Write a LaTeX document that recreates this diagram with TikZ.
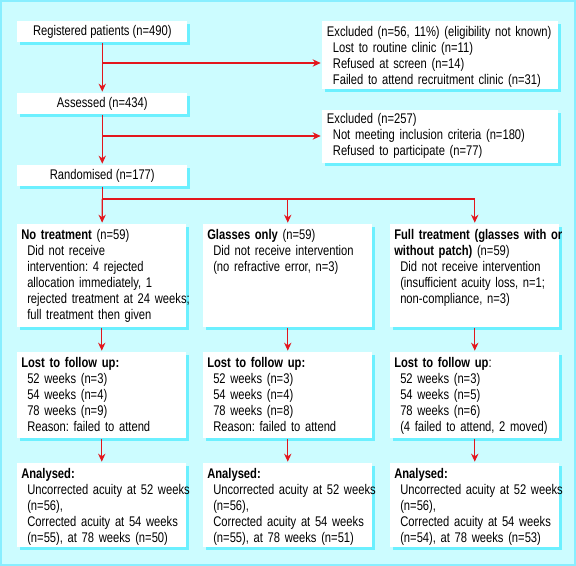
\documentclass[tikz,border=0pt]{standalone}
\usepackage{fontspec}
\setmainfont{Liberation Sans}[FakeStretch=0.80]
\usetikzlibrary{positioning,arrows.meta,calc,shadows}
\definecolor{bgcyan}{HTML}{CCFCFF}
\definecolor{shadowcyan}{HTML}{6CF0FF}
\definecolor{framecyan}{HTML}{88EEFF}
\definecolor{arrowred}{HTML}{E3161D}
\newcommand{\headline}[1]{\mbox{#1}}
\newcommand{\indline}[1]{\mbox{\hspace*{4.5pt}#1}}
\frenchspacing

\begin{document}
\begin{tikzpicture}[x=0.75pt, y=-0.75pt,
  font=\fontsize{10.5}{12}\selectfont,
  cyanshadow/.style={drop shadow={shadow xshift=2.25pt, shadow yshift=-2.25pt,
    fill=shadowcyan, opacity=1}},
  smallbox/.style={fill=white, anchor=north west, inner sep=0pt,
    minimum width=127.5pt, minimum height=15.75pt, cyanshadow},
  exbox/.style={fill=white, anchor=north west, inner xsep=3.5pt, inner ysep=0pt,
    text width=170pt, align=left, text height=11.25pt, cyanshadow},
  colbox/.style={fill=white, anchor=north west, inner xsep=3pt, inner ysep=0pt,
    text width=120.75pt, align=left, text height=11.25pt, cyanshadow},
  arrow/.style={-{Stealth[length=6pt, width=5.5pt]}, line width=0.9pt,
    color=arrowred, shorten >=1pt},
  branch/.style={line width=0.9pt, color=arrowred}
]

% Frame
\fill[bgcyan] (0,0) rectangle (576,566);
\draw[framecyan, line width=1.5pt] (1,1) rectangle (575,565);
\useasboundingbox (0,0) rectangle (576,566);

% Enrolment
\node[smallbox] (reg) at (17,21) {Registered patients (n=490)};
\node[smallbox] (ass) at (17,93) {Assessed (n=434)};
\node[smallbox] (rand) at (17,165) {Randomised (n=177)};

% Exclusions
\node[exbox, text depth=39.75pt] (exc1) at (322,21) {\headline{Excluded (n=56, 11\%) (eligibility not known)}\\
  \indline{Lost to routine clinic (n=11)}\\
  \indline{Refused at screen (n=14)}\\
  \indline{Failed to attend recruitment clinic (n=31)}};
\node[exbox, text height=9.75pt, text depth=30pt] (exc2) at (322,110) {\headline{Excluded (n=257)}\\
  \indline{Not meeting inclusion criteria (n=180)}\\
  \indline{Refused to participate (n=77)}};

% Allocation
\node[colbox, text depth=66pt] (none) at (17,224) {\headline{\textbf{No treatment} (n=59)}\\
  \indline{Did not receive}\\
  \indline{intervention: 4 rejected}\\
  \indline{allocation immediately, 1}\\
  \indline{rejected treatment at 24 weeks;}\\
  \indline{full treatment then given}};
\node[colbox, text depth=66pt] (glass) at (203,224) {\headline{\textbf{Glasses only} (n=59)}\\
  \indline{Did not receive intervention}\\
  \indline{(no refractive error, n=3)}};
\node[colbox, text depth=66pt] (full) at (390,224) {\headline{\textbf{Full treatment (glasses with or}}\\
  \headline{\textbf{without patch)} (n=59)}\\
  \indline{Did not receive intervention}\\
  \indline{(insufficient acuity loss, n=1;}\\
  \indline{non-compliance, n=3)}};

% Follow up
\node[colbox, text depth=53.25pt] (nonelost) at (17,352) {\headline{\textbf{Lost to follow up:}}\\
  \indline{52 weeks (n=3)}\\
  \indline{54 weeks (n=4)}\\
  \indline{78 weeks (n=9)}\\
  \indline{Reason: failed to attend}};
\node[colbox, text depth=53.25pt] (glasslost) at (203,352) {\headline{\textbf{Lost to follow up:}}\\
  \indline{52 weeks (n=3)}\\
  \indline{54 weeks (n=4)}\\
  \indline{78 weeks (n=8)}\\
  \indline{Reason: failed to attend}};
\node[colbox, text depth=53.25pt] (fulllost) at (390,352) {\headline{\textbf{Lost to follow up}:}\\
  \indline{52 weeks (n=3)}\\
  \indline{54 weeks (n=5)}\\
  \indline{78 weeks (n=6)}\\
  \indline{(4 failed to attend, 2 moved)}};

% Analysis
\node[colbox, text depth=51.75pt] (noneana) at (17,463) {\headline{\textbf{Analysed:}}\\
  \indline{Uncorrected acuity at 52 weeks}\\
  \indline{(n=56),}\\
  \indline{Corrected acuity at 54 weeks}\\
  \indline{(n=55), at 78 weeks (n=50)}};
\node[colbox, text depth=51.75pt] (glassana) at (203,463) {\headline{\textbf{Analysed:}}\\
  \indline{Uncorrected acuity at 52 weeks}\\
  \indline{(n=56),}\\
  \indline{Corrected acuity at 54 weeks}\\
  \indline{(n=55), at 78 weeks (n=51)}};
\node[colbox, text depth=51.75pt] (fullana) at (390,463) {\headline{\textbf{Analysed:}}\\
  \indline{Uncorrected acuity at 52 weeks}\\
  \indline{(n=56),}\\
  \indline{Corrected acuity at 54 weeks}\\
  \indline{(n=54), at 78 weeks (n=53)}};

% Arrows
\coordinate (b1) at (reg.south |- 0,63);
\coordinate (b2) at (ass.south |- 0,136);
\coordinate (split) at (rand.south |- 0,199);
\draw[arrow] (reg) -- (ass);
\draw[arrow] (b1) -- (b1 -| exc1.west);
\draw[arrow] (ass) -- (rand);
\draw[arrow] (b2) -- (b2 -| exc2.west);
\draw[branch] (rand.south) -- (split) -- (split -| full.north);
\draw[arrow] (split) -- (none);
\draw[arrow] (split -| glass.north) -- (glass);
\draw[arrow] (split -| full.north) -- (full);
\draw[arrow] (none) -- (nonelost);
\draw[arrow] (glass) -- (glasslost);
\draw[arrow] (full) -- (fulllost);
\draw[arrow] (nonelost) -- (noneana);
\draw[arrow] (glasslost) -- (glassana);
\draw[arrow] (fulllost) -- (fullana);

\end{tikzpicture}
\end{document}
